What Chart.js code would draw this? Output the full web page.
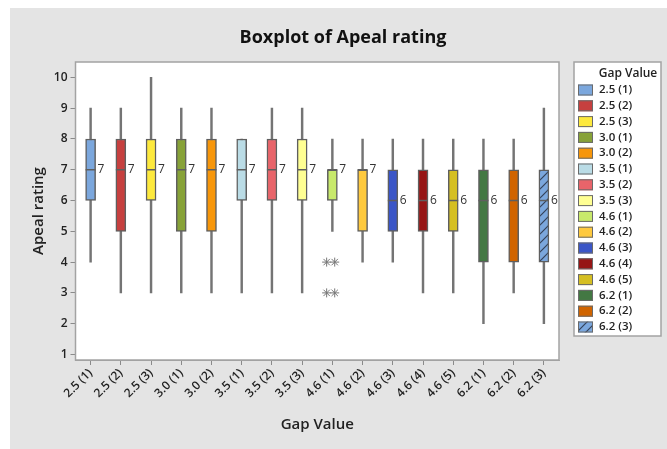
<!DOCTYPE html>
<html>
<head>
<meta charset="utf-8">
<script src="https://cdn.jsdelivr.net/npm/chart.js@4/dist/chart.umd.min.js"></script>
<style>
  html, body { margin: 0; padding: 0; background: #fff; }
  #wrap { position: absolute; left: 10px; top: 8px; width: 657px; height: 441px; background: #e4e4e4; }
</style>
</head>
<body>
<div id="wrap"><canvas id="boxChart" width="657" height="441"></canvas></div>
<script>
// data
const categories = ['2.5 (1)', '2.5 (2)', '2.5 (3)', '3.0 (1)', '3.0 (2)', '3.5 (1)', '3.5 (2)', '3.5 (3)',
                    '4.6 (1)', '4.6 (2)', '4.6 (3)', '4.6 (4)', '4.6 (5)', '6.2 (1)', '6.2 (2)', '6.2 (3)'];
const whiskerLow  = [4, 3, 3, 3, 3, 3, 3, 3, 5, 4, 4, 3, 3, 2, 3, 2];
const q1          = [6, 5, 6, 5, 5, 6, 6, 6, 6, 5, 5, 5, 5, 4, 4, 4];
const medians     = [7, 7, 7, 7, 7, 7, 7, 7, 7, 7, 6, 6, 6, 6, 6, 6];
const q3          = [8, 8, 8, 8, 8, 8, 8, 8, 7, 7, 7, 7, 7, 7, 7, 7];
const whiskerHigh = [9, 9, 10, 9, 9, 8, 9, 9, 8, 8, 8, 8, 8, 8, 8, 9];
const outlierCategory = ['4.6 (1)', '4.6 (1)', '4.6 (1)', '4.6 (1)'];
const outlierValues   = [4, 4, 3, 3];
const yTicks = [1, 2, 3, 4, 5, 6, 7, 8, 9, 10];

const boxColors = ['#7ba7dd', '#c6403f', '#fde93d', '#87a238', '#f7960a', '#badce6', '#e8646a', '#ffff93',
                   '#c8e96b', '#fec93e', '#3b56c7', '#961515', '#d5bf22', '#437843', '#d06400', '#7ba7dd'];
const hatched = categories.map((c, i) => i === categories.length - 1);

const FONT = "'Open Sans', 'DejaVu Sans', sans-serif";
const LINE = '#5f5f5f';

const canvas = document.getElementById('boxChart');
const ctx = canvas.getContext('2d');

function hatchPattern(base) {
    const p = document.createElement('canvas');
    p.width = 9; p.height = 9;
    const g = p.getContext('2d');
    g.fillStyle = base;
    g.fillRect(0, 0, 9, 9);
    g.strokeStyle = '#34425a';
    g.lineWidth = 1.2;
    g.beginPath();
    g.moveTo(0, 9); g.lineTo(9, 0);
    g.moveTo(-2, 2); g.lineTo(2, -2);
    g.moveTo(7, 11); g.lineTo(11, 7);
    g.stroke();
    return ctx.createPattern(p, 'repeat');
}

const fills = boxColors.map((c, i) => hatched[i] ? hatchPattern(c) : c);

// spread repeated outliers side by side
const outlierPoints = [];
outlierValues.forEach((v, i) => {
    const idx = categories.indexOf(outlierCategory[i]);
    const same = outlierValues.filter((w, j) => w === v && outlierCategory[j] === outlierCategory[i]).length;
    const k = outlierValues.slice(0, i).filter((w, j) => w === v && outlierCategory[j] === outlierCategory[i]).length;
    outlierPoints.push({ x: idx + (k - (same - 1) / 2) * 0.3, y: v });
});

const boxExtras = {
    id: 'boxExtras',
    beforeDraw(chart) {
        const a = chart.chartArea;
        const c = chart.ctx;
        c.save();
        c.fillStyle = '#fff';
        c.fillRect(a.left, a.top, a.right - a.left, a.bottom - a.top);
        c.fillStyle = '#111';
        c.font = 'bold 18px ' + FONT;
        c.textAlign = 'center';
        c.textBaseline = 'middle';
        c.fillText('Boxplot of Apeal rating', 333, 30);
        c.restore();
    },
    afterDatasetsDraw(chart) {
        const c = chart.ctx;
        const xs = chart.scales.x, ys = chart.scales.y;
        c.save();
        c.strokeStyle = LINE;
        c.lineWidth = 1.5;
        c.fillStyle = '#333';
        c.font = '12px ' + FONT;
        c.textBaseline = 'middle';
        medians.forEach((m, i) => {
            const x = xs.getPixelForValue(i);
            const y = ys.getPixelForValue(m);
            c.beginPath();
            c.moveTo(x - 5, y);
            c.lineTo(x + 5, y);
            c.stroke();
            c.fillText(String(m), x + 7, y);
        });
        c.restore();
    },
    afterDraw(chart) {
        const c = chart.ctx;
        const a = chart.chartArea;
        c.save();
        c.strokeStyle = '#a3a3a3';
        c.lineWidth = 1.5;
        c.strokeRect(a.left, a.top, a.right - a.left, a.bottom - a.top);

        // legend
        const lx = 564, ly = 54, lw = 87, lh = 274;
        c.fillStyle = '#fff';
        c.fillRect(lx, ly, lw, lh);
        c.strokeRect(lx, ly, lw, lh);
        c.fillStyle = '#222';
        c.font = '600 12px ' + FONT;
        c.textAlign = 'center';
        c.textBaseline = 'middle';
        c.fillText('Gap Value', 618, 66);
        c.textAlign = 'left';
        c.font = '600 11.5px ' + FONT;
        categories.forEach((cat, i) => {
            const y = 82 + i * 15.8;
            c.fillStyle = fills[i];
            c.fillRect(568, y - 5.5, 15, 11);
            c.strokeStyle = '#6a6a6a';
            c.lineWidth = 1;
            c.strokeRect(568.5, y - 5, 14, 10);
            c.fillStyle = '#222';
            c.fillText(cat, 589, y);
        });
        c.restore();
    }
};

new Chart(ctx, {
    type: 'bar',
    data: {
        labels: categories,
        datasets: [
            {
                type: 'scatter',
                data: outlierPoints,
                xAxisID: 'x2',
                pointStyle: 'star',
                radius: 4.5,
                borderColor: '#777',
                borderWidth: 1,
                backgroundColor: 'transparent',
                order: 0
            },
            {
                data: categories.map((c, i) => [q1[i], q3[i]]),
                backgroundColor: fills,
                borderColor: LINE,
                borderWidth: 1.5,
                borderSkipped: false,
                barThickness: 10,
                grouped: false,
                order: 1
            },
            {
                data: categories.map((c, i) => [whiskerLow[i], whiskerHigh[i]]),
                backgroundColor: '#747474',
                borderWidth: 0,
                barThickness: 1.8,
                grouped: false,
                order: 2
            }
        ]
    },
    options: {
        responsive: false,
        animation: false,
        layout: { padding: { left: 0, right: 108, top: 54, bottom: 0 } },
        plugins: {
            legend: { display: false },
            tooltip: { enabled: false },
            title: { display: false }
        },
        scales: {
            x: {
                type: 'category',
                offset: true,
                grid: { display: true, drawOnChartArea: false, drawTicks: true, tickLength: 5, color: '#8a8a8a', offset: false },
                border: { display: true, color: '#a3a3a3' },
                ticks: {
                    color: '#222',
                    font: { family: FONT, size: 12, weight: '600' },
                    minRotation: 45,
                    maxRotation: 45,
                    padding: 1,
                    autoSkip: false
                },
                title: {
                    display: true,
                    text: 'Gap Value',
                    color: '#222',
                    font: { family: FONT, size: 15, weight: '600' },
                    padding: { top: 0, bottom: 15 }
                },
                afterFit(scale) { scale.height = 89; }
            },
            x2: {
                type: 'linear',
                display: false,
                min: -0.5,
                max: categories.length - 0.5
            },
            y: {
                min: 0.82,
                max: 10.5,
                grid: { display: true, drawOnChartArea: false, drawTicks: true, tickLength: 5, color: '#8a8a8a' },
                border: { display: true, color: '#a3a3a3' },
                ticks: {
                    color: '#222',
                    font: { family: FONT, size: 12, weight: '600' },
                    padding: 3
                },
                afterBuildTicks(scale) { scale.ticks = yTicks.map(v => ({ value: v })); },
                title: {
                    display: true,
                    text: 'Apeal rating',
                    color: '#222',
                    font: { family: FONT, size: 15, weight: '600' },
                    padding: { top: 20, bottom: 0 }
                },
                afterFit(scale) { scale.width = 65.5; }
            }
        }
    },
    plugins: [boxExtras]
});
</script>
</body>
</html>
